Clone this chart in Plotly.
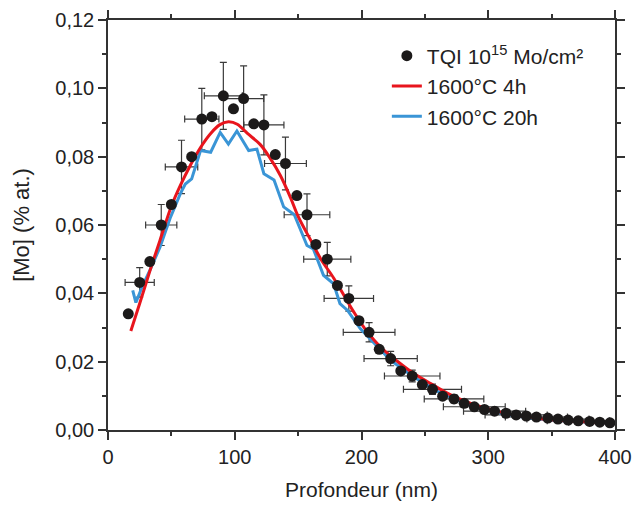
import plotly.graph_objects as go

# Measured points (TQI 10^15 Mo/cm²)
depth_nm = [16, 25, 33, 42, 50, 58, 66, 74, 82, 91, 99, 107, 115, 123, 132, 140,
            149, 157, 164, 173, 181, 190, 198, 206, 214, 223, 231, 240, 248, 256,
            264, 273, 281, 289, 297, 305, 314, 322, 330, 338, 347, 355, 363, 371,
            380, 388, 396]
conc = [0.034, 0.0432, 0.0493, 0.060, 0.066, 0.077, 0.080, 0.091, 0.0917, 0.0978,
        0.094, 0.097, 0.0896, 0.0893, 0.0806, 0.078, 0.0686, 0.063, 0.0543, 0.050,
        0.0423, 0.0385, 0.032, 0.0286, 0.0236, 0.0209, 0.0173, 0.0158, 0.0133,
        0.0119, 0.0099, 0.0091, 0.0078, 0.0068, 0.0060, 0.0055, 0.0049, 0.0044,
        0.0041, 0.0038, 0.0035, 0.0032, 0.0029, 0.0027, 0.0025, 0.0023, 0.0021]

# Error bars (every second point)
err_depth = [25, 42, 58, 74, 91, 107, 123, 140, 157, 173, 190, 206, 223, 240, 256,
             273, 289, 305, 322, 338, 355, 371, 388]
err_conc = [0.0432, 0.060, 0.077, 0.091, 0.0978, 0.097, 0.0893, 0.078, 0.063, 0.050,
            0.0385, 0.0286, 0.0209, 0.0158, 0.0119, 0.0091, 0.0068, 0.0055, 0.0044,
            0.0038, 0.0032, 0.0027, 0.0023]
err_x = [11.5, 12.3, 12.8, 13.5, 15.0, 15.8, 15.8, 16.5, 18.0, 18.6, 19.5, 20.4,
         21.0, 21.9, 22.9, 23.5, 24.4, 24.5, 24.5, 24.5, 24.5, 24.5, 24.5]
err_y = [0.0043, 0.006, 0.0078, 0.009, 0.0098, 0.0096, 0.0088, 0.0077, 0.0061,
         0.0049, 0.0037, 0.0028, 0.0021, 0.0017, 0.0015, 0.0012, 0.0009, 0.0008,
         0.0007, 0.0006, 0.0005, 0.0005, 0.0004]

# Simulation 1600°C 4h
red_x = [18, 25, 33, 41, 50, 57, 65, 73, 81, 88, 95, 102, 110, 120, 128, 136, 144,
         150, 160, 168, 178, 186, 194, 204, 215, 228, 241, 255, 268, 281, 294, 307,
         320, 334, 347, 361, 375, 387, 399]
red_y = [0.029, 0.037, 0.0465, 0.0555, 0.0655, 0.0715, 0.0775, 0.0827, 0.0868,
         0.0893, 0.0902, 0.0895, 0.0868, 0.0836, 0.0795, 0.0745, 0.068, 0.0625,
         0.0555, 0.050, 0.0445, 0.0395, 0.0345, 0.029, 0.0243, 0.0202, 0.0166,
         0.0135, 0.0107, 0.0085, 0.0068, 0.0055, 0.0044, 0.0037, 0.0031, 0.0027,
         0.0024, 0.0022, 0.0021]

# Simulation 1600°C 20h
blue_x = [19.5, 22, 27, 33, 41, 49, 57, 61, 66, 73, 81, 88.5, 95, 101.7, 111, 117.5,
          123, 131, 138.6, 144, 147, 157, 162, 170, 178, 183, 189, 199, 210, 223,
          241, 260, 280, 300, 320, 340, 360, 380, 396]
blue_y = [0.0409, 0.0373, 0.042, 0.0467, 0.0535, 0.062, 0.0691, 0.072, 0.0735,
          0.0818, 0.0813, 0.0871, 0.0837, 0.0875, 0.0818, 0.0822, 0.075, 0.0732,
          0.0653, 0.0638, 0.0630, 0.054, 0.053, 0.0453, 0.0428, 0.037, 0.035,
          0.0297, 0.0253, 0.0204, 0.0156, 0.0113, 0.0080, 0.0057, 0.0042, 0.0032,
          0.0026, 0.0022, 0.0020]

x_ticks = [0, 100, 200, 300, 400]
y_ticks = [0.00, 0.02, 0.04, 0.06, 0.08, 0.10, 0.12]

FONT = "Liberation Sans, Arial, sans-serif"

fig = go.Figure()

fig.add_trace(go.Scatter(
    x=err_depth, y=err_conc, mode="markers",
    marker=dict(size=1, color="rgba(0,0,0,0)"),
    error_x=dict(type="data", array=err_x, visible=True, color="#3a3a3a",
                 thickness=1.2, width=3.5),
    error_y=dict(type="data", array=err_y, visible=True, color="#3a3a3a",
                 thickness=1.2, width=3.5),
    showlegend=False, hoverinfo="skip"))

fig.add_trace(go.Scatter(
    x=blue_x, y=blue_y, mode="lines", name="1600°C 20h", legendrank=3,
    line=dict(color="#3a95d6", width=3)))

fig.add_trace(go.Scatter(
    x=red_x, y=red_y, mode="lines", name="1600°C 4h", legendrank=2,
    line=dict(color="#e8151d", width=3, shape="spline")))

fig.add_trace(go.Scatter(
    x=depth_nm, y=conc, mode="markers", name="TQI 10<sup>15</sup> Mo/cm²",
    legendrank=1,
    marker=dict(size=11, color="#1c1a1a")))

axis_common = dict(
    showline=True, linecolor="#333333", linewidth=1.5, mirror="allticks",
    ticks="outside", ticklen=8, tickwidth=1.5, tickcolor="#333333",
    showgrid=False, zeroline=False, automargin=False,
    tickfont=dict(family=FONT, size=20, color="#222222"),
)

fig.update_xaxes(
    range=[0, 400], tickvals=x_ticks, ticktext=[str(v) for v in x_ticks],
    minor=dict(ticks="outside", ticklen=4, tickwidth=1.5, tickcolor="#333333", dtick=50),
    title=dict(text="Profondeur (nm)", standoff=16,
               font=dict(family=FONT, size=21, color="#222222")),
    **axis_common)
fig.update_yaxes(
    range=[0, 0.12], tickvals=y_ticks, ticktext=[f"{v:.2f}".replace(".", ",") for v in y_ticks],
    minor=dict(ticks="outside", ticklen=4, tickwidth=1.5, tickcolor="#333333", dtick=0.01),
    title=dict(text="[Mo] (% at.)", standoff=20,
               font=dict(family=FONT, size=22, color="#222222")),
    **axis_common)

fig.update_layout(
    width=633, height=505,
    margin=dict(l=108, r=18, t=20, b=75),
    plot_bgcolor="white", paper_bgcolor="white",
    font=dict(family=FONT, color="#222222"),
    legend=dict(x=0.55, y=0.962, xanchor="left", yanchor="top",
                bgcolor="rgba(0,0,0,0)",
                font=dict(family=FONT, size=21, color="#222222"),
                itemwidth=30, tracegroupgap=0),
)

fig.write_html("out.html", config={"displayModeBar": False},
               post_script="document.body.style.margin='0';")
